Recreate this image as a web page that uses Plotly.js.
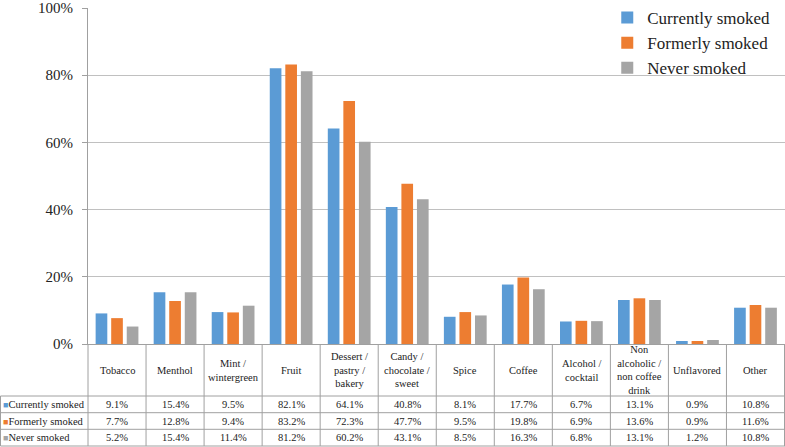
<!DOCTYPE html>
<html>
<head>
<meta charset="utf-8">
<script src="https://cdn.plot.ly/plotly-3.0.1.min.js"></script>
</head>
<body style="margin:0;padding:0;background:#fff">
<div id="chart"></div>
<script>
// ---- data ----
const categories = ["Tobacco", "Menthol", "Mint /<br>wintergreen", "Fruit", "Dessert /<br>pastry /<br>bakery",
  "Candy /<br>chocolate /<br>sweet", "Spice", "Coffee", "Alcohol /<br>cocktail",
  "Non<br>alcoholic /<br>non coffee<br>drink", "Unflavored", "Other"];
const seriesNames = ["Currently smoked", "Formerly smoked", "Never smoked"];
const currentlySmoked = [9.1, 15.4, 9.5, 82.1, 64.1, 40.8, 8.1, 17.7, 6.7, 13.1, 0.9, 10.8];
const formerlySmoked  = [7.7, 12.8, 9.4, 83.2, 72.3, 47.7, 9.5, 19.8, 6.9, 13.6, 0.9, 11.6];
const neverSmoked     = [5.2, 15.4, 11.4, 81.2, 60.2, 43.1, 8.5, 16.3, 6.8, 13.1, 1.2, 10.8];
const yTickValues = [0, 20, 40, 60, 80, 100];

// ---- styling ----
const colors = ["#5B9BD5", "#ED7D31", "#A5A5A5"];
const serifFamily = "Liberation Serif";
const lineCol = "#a0a0a0";
const W = 785, H = 447, ML = 88, MT = 8, MB = 103;
const plotH = H - MT - MB; // 336
const plotW = W - ML;
function py(p) { return (H - MB - p) / plotH; }   // pixel y -> paper y
const xLeft = -ML / plotW;                          // paper x of left image edge

const allSeries = [currentlySmoked, formerlySmoked, neverSmoked];
const traces = allSeries.map((vals, k) => ({
  type: "bar",
  name: seriesNames[k],
  x: categories,
  y: vals,
  marker: { color: colors[k] },
  hoverinfo: "none"
}));

// table geometry (pixel rows)
const rowLines = [396, 412.7, 429.3, 446];
const rowCenters = [404.3, 421, 437.7];
const headerCenter = 370;

const shapes = [];
rowLines.forEach(p => shapes.push({ type: "line", xref: "paper", yref: "paper",
  x0: xLeft + 0.5 / plotW, x1: 1, y0: py(p), y1: py(p), line: { color: lineCol, width: 1 } }));
shapes.push({ type: "line", xref: "paper", yref: "paper", x0: xLeft + 0.5 / plotW, x1: xLeft + 0.5 / plotW,
  y0: py(rowLines[0]), y1: py(rowLines[3]), line: { color: lineCol, width: 1 } });
shapes.push({ type: "line", xref: "paper", yref: "paper", x0: 0, x1: 0,
  y0: 0, y1: py(rowLines[3]), line: { color: lineCol, width: 1 } });
categories.forEach((c, i) => shapes.push({ type: "line", xref: "x", yref: "paper",
  x0: i + 0.5, x1: i + 0.5, y0: 0, y1: py(rowLines[3]), line: { color: lineCol, width: 1 } }));

const annotations = [];
categories.forEach((c, i) => {
  annotations.push({ xref: "x", yref: "paper", x: i, y: py(headerCenter), text: c,
    showarrow: false, xanchor: "center", yanchor: "middle", font: { family: serifFamily, size: 10.5, color: "#222" } });
  allSeries.forEach((vals, k) => annotations.push({ xref: "x", yref: "paper", x: i, y: py(rowCenters[k]),
    text: vals[i].toFixed(1) + "%", showarrow: false, xanchor: "center", yanchor: "middle",
    font: { family: serifFamily, size: 10.5, color: "#222" } }));
});
seriesNames.forEach((n, k) => annotations.push({ xref: "paper", yref: "paper", x: xLeft + 1 / plotW,
  y: py(rowCenters[k]), xanchor: "left", yanchor: "middle", showarrow: false,
  font: { family: serifFamily, size: 10.5, color: "#222" },
  text: "<span style='color:" + colors[k] + ";font-size:9px'>■</span>" + n }));

const layout = {
  width: W, height: H,
  margin: { l: ML, r: 0, t: MT, b: MB, pad: 0 },
  paper_bgcolor: "#fff", plot_bgcolor: "#fff",
  barmode: "group", bargap: 0.196, bargroupgap: 0.25,
  font: { family: serifFamily, color: "#222" },
  xaxis: { showticklabels: false, ticks: "", showgrid: false, showline: true,
    linecolor: lineCol, linewidth: 1, zeroline: false, fixedrange: true },
  yaxis: { range: [0, 100], tickvals: yTickValues, ticktext: yTickValues.map(v => v + "%"),
    ticks: "outside", ticklen: 5, tickcolor: lineCol, showline: true, linecolor: lineCol, linewidth: 1,
    showgrid: true, gridcolor: "#c0c0c0", gridwidth: 1, zeroline: false,
    tickfont: { family: serifFamily, size: 15, color: "#222" }, ticklabelstandoff: 6 },
  legend: { x: 0.745, y: 1.024, xanchor: "left", yanchor: "top", bgcolor: "rgba(0,0,0,0)",
    font: { family: serifFamily, size: 17, color: "#222" }, tracegroupgap: 0, itemwidth: 30 },
  shapes: shapes,
  annotations: annotations,
  showlegend: true
};

Plotly.newPlot("chart", traces, layout, { staticPlot: true });
</script>
</body>
</html>
